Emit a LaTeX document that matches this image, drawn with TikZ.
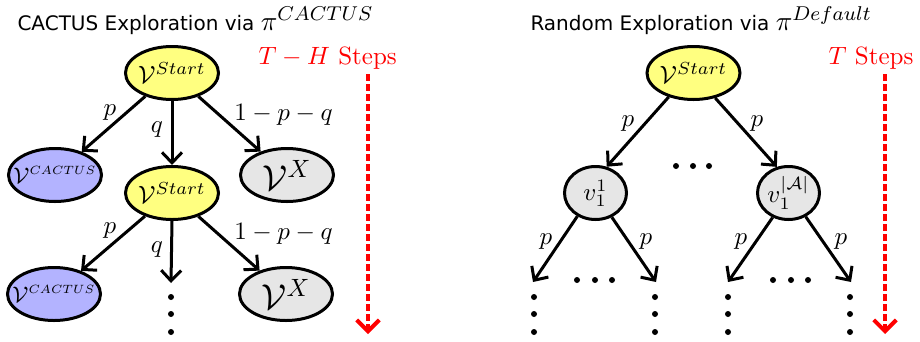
\documentclass[tikz,border=0pt]{standalone}
\usepackage{fontspec}
\usepackage{graphicx}
\newfontfamily\titlefont{DejaVu Sans}
\usetikzlibrary{shapes.geometric,arrows.meta}
\definecolor{nodeyellow}{RGB}{255,255,128}
\definecolor{nodeblue}{RGB}{179,179,255}
\definecolor{nodegray}{RGB}{230,230,230}
\newcommand{\cactuslabel}{{\fontsize{8.6}{10}\selectfont$\mathcal{V}^{\scalebox{0.8}{$\scriptstyle CACTUS$}}$}}
\begin{document}
\begin{tikzpicture}[x=0.4pt,y=-0.4pt,
  bignode/.style={ellipse,draw,line width=1.2pt,minimum width=37.2pt,minimum height=21.2pt,inner sep=0pt},
  smallnode/.style={ellipse,draw,line width=1.2pt,minimum width=24.8pt,minimum height=21.2pt,inner sep=0pt,fill=nodegray},
  startnode/.style={bignode,fill=nodeyellow},
  cactusnode/.style={bignode,fill=nodeblue},
  xnode/.style={bignode,fill=nodegray},
  arr/.style={line width=1.2pt,-{Straight Barb[length=4.2pt,width=8pt]}},
  lab/.style={inner sep=0pt},
  dot/.style={circle,fill,inner sep=0pt,minimum size=2.4pt},
  stepsarrow/.style={red,line width=1.6pt,dash pattern=on 2.8pt off 1.2pt,-{Straight Barb[length=4.5pt,width=9pt]}},
  titletext/.style={anchor=base west,inner sep=0pt},
  stepslabel/.style={anchor=base west,inner sep=0pt,text=red}
]
\useasboundingbox (0,0) rectangle (920,341);

% ---------- titles ----------
\node[titletext] (title1) at (17,30.5) {\titlefont\fontsize{8}{10}\selectfont CACTUS Exploration via {\normalfont\fontsize{11}{13}\selectfont$\pi^{CACTUS}$}};
\node[titletext] (title2) at (530,30.5) {\titlefont\fontsize{8}{10}\selectfont Random Exploration via {\normalfont\fontsize{11}{13}\selectfont$\pi^{Default}$}};

% ---------- steps labels and arrows ----------
\node[stepslabel] (steps1) at (258,64) {$T-H$ Steps};
\node[stepslabel] (steps2) at (828,64) {$T$ Steps};
\coordinate (s1top) at (368,74);
\coordinate (s1bot) at (368,334);
\coordinate (s2top) at (885,74);
\coordinate (s2bot) at (885,334);
\draw[stepsarrow] (s1top) -- (s1bot);
\draw[stepsarrow] (s2top) -- (s2bot);

% ---------- left tree ----------
\node[startnode] (s1) at (172,73) {\makebox[0pt]{$\mathcal{V}^{Start}$}};
\node[cactusnode] (c1) at (55,175) {\makebox[0pt]{\cactuslabel}};
\node[xnode] (x1) at (287,175) {\makebox[0pt]{\Large$\mathcal{V}^{X}$}};
\node[startnode] (s2) at (172,193) {\makebox[0pt]{$\mathcal{V}^{Start}$}};
\node[cactusnode] (c2) at (54,294) {\makebox[0pt]{\cactuslabel}};
\node[xnode] (x2) at (286,294) {\makebox[0pt]{\Large$\mathcal{V}^{X}$}};
\coordinate (s2end) at (171,283);

\draw[arr] (s1) -- (c1) node[lab] at (110,112.5) {$p$};
\draw[arr] (s1) -- (s2) node[lab] at (157,129.5) {$q$};
\draw[arr] (s1) -- (x1) node[lab] at (283.5,115) {$1-p-q$};
\draw[arr] (s2) -- (c2) node[lab] at (110,231) {$p$};
\draw[arr] (s2.south) -- (s2end) node[lab] at (157,250) {$q$};
\draw[arr] (s2) -- (x2) node[lab] at (283.5,234) {$1-p-q$};

\node[dot] (ld1) at (171,297) {};
\node[dot] (ld2) at (171,314) {};
\node[dot] (ld3) at (171,332) {};

% ---------- right tree ----------
\node[startnode] (r0) at (693.5,73) {\makebox[0pt]{$\mathcal{V}^{Start}$}};
\node[smallnode] (v1) at (595.5,193) {\makebox[0pt]{$v_1^1$}};
\node[smallnode] (vA) at (788.5,193) {\makebox[0pt]{$v_1^{|\mathcal{A}|}$}};

\draw[arr] (r0.224) -- (v1.67) node[lab] at (628,123.5) {$p$};
\draw[arr] (r0.311) -- (vA.114) node[lab] at (757,123.5) {$p$};

\node[dot] (hd1) at (676,166) {};
\node[dot] (hd2) at (693,166) {};
\node[dot] (hd3) at (709,166) {};

\coordinate (e1) at (533,282);
\coordinate (e2) at (656,282);
\coordinate (e3) at (728,282);
\coordinate (e4) at (851,282);
\draw[arr] (v1.232) -- (e1) node[lab] at (546,241.5) {$p$};
\draw[arr] (v1.304) -- (e2) node[lab] at (646,241.5) {$p$};
\draw[arr] (vA.237) -- (e3) node[lab] at (741,241.5) {$p$};
\draw[arr] (vA.306) -- (e4) node[lab] at (841,241.5) {$p$};

\foreach \x/\n in {577/a,595/b,612/c,773/d,791/e,808/f}
  \node[dot] (h\n) at (\x,280) {};
\foreach \x/\n in {534/a,655/b,728/c,850/d}
  \foreach \y/\m in {297/1,314/2,332/3}
    \node[dot] (v\n\m) at (\x,\y) {};
\end{tikzpicture}
\end{document}
